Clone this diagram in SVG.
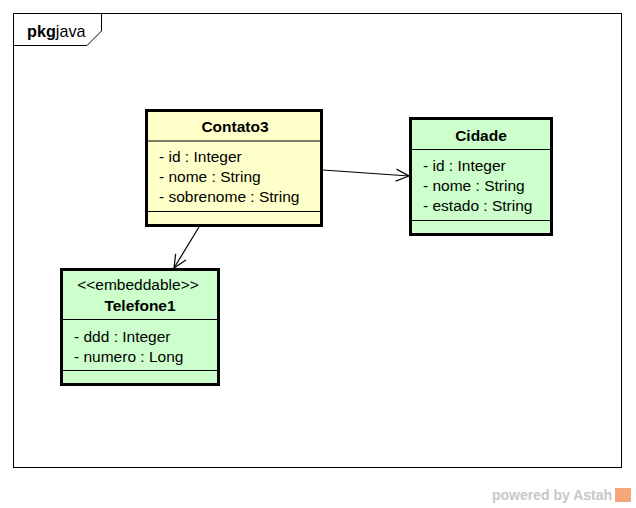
<svg xmlns="http://www.w3.org/2000/svg" width="636" height="508" viewBox="0 0 636 508">
<style>
text{font-family:"Liberation Sans",Arial,sans-serif;fill:#000}
.t{font-size:15.5px;font-weight:bold;text-anchor:middle}
.a{font-size:15.5px}
.cls{stroke:#000;stroke-width:3}
.div{stroke:#000;stroke-width:1}
.conn{stroke:#000;stroke-width:1.2;fill:none}
</style>
<defs>
<marker id="open" markerWidth="16" markerHeight="14" refX="14" refY="7" orient="auto" markerUnits="userSpaceOnUse">
<path d="M1,1 L14,7 L1,13" fill="none" stroke="#000" stroke-width="1.2"/>
</marker>
</defs>
<rect width="636" height="508" fill="#fff"/>
<g id="frame">
<rect x="13.5" y="13.5" width="608" height="454" fill="none" stroke="#000" stroke-width="1"/>
<path d="M13.5,45.5 H87 L101.5,31 V13.5" fill="none" stroke="#000" stroke-width="1"/>
<text x="27" y="37" style="font-size:16.2px"><tspan font-weight="bold">pkg</tspan>java</text>
</g>
<g id="connectors">
<path class="conn" d="M323,170 L409,176" marker-end="url(#open)"/>
<path class="conn" d="M199,227 L174,268" marker-end="url(#open)"/>
</g>
<g id="Contato3">
<rect class="cls" x="146.5" y="110.5" width="175" height="115" fill="#ffffca"/>
<line class="div" x1="146" y1="141" x2="322" y2="141"/>
<line class="div" x1="146" y1="211.5" x2="322" y2="211.5"/>
<text class="t" x="235" y="132">Contato3</text>
<text class="a" x="159" y="162">- id : Integer</text>
<text class="a" x="159" y="182">- nome : String</text>
<text class="a" x="159" y="202">- sobrenome : String</text>
</g>
<g id="Cidade">
<rect class="cls" x="410.5" y="118.5" width="141" height="116" fill="#ccffcc"/>
<line class="div" x1="410" y1="149.5" x2="552" y2="149.5"/>
<line class="div" x1="410" y1="220.5" x2="552" y2="220.5"/>
<text class="t" x="481" y="141">Cidade</text>
<text class="a" x="423" y="171">- id : Integer</text>
<text class="a" x="423" y="191">- nome : String</text>
<text class="a" x="423" y="211">- estado : String</text>
</g>
<g id="Telefone1">
<rect class="cls" x="61.5" y="269.5" width="157" height="115" fill="#ccffcc"/>
<line class="div" x1="61" y1="319.5" x2="219" y2="319.5"/>
<line class="div" x1="61" y1="370.5" x2="219" y2="370.5"/>
<text class="a" x="138" y="290" text-anchor="middle">&lt;&lt;embeddable&gt;&gt;</text>
<text class="t" x="140" y="311">Telefone1</text>
<text class="a" x="74" y="342">- ddd : Integer</text>
<text class="a" x="74" y="362">- numero : Long</text>
</g>
<g id="watermark">
<text x="492" y="500" style="font-size:14px;font-weight:bold;fill:#c8c8c8">powered by Astah</text>
<rect x="615" y="488" width="16" height="14" fill="#f4a77a"/>
</g>
</svg>
